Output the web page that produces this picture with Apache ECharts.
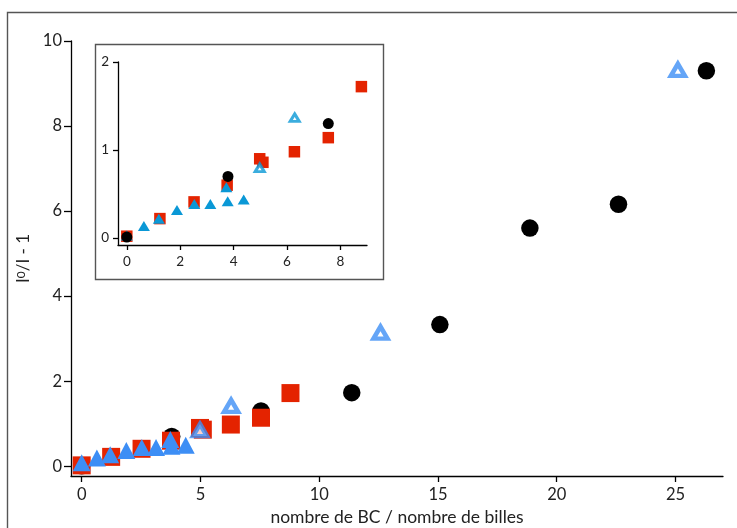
<!DOCTYPE html>
<html>
<head>
<meta charset="utf-8">
<script src="https://cdn.jsdelivr.net/npm/echarts@6/dist/echarts.min.js"></script>
<style>html,body{margin:0;padding:0;background:#fff}#c{width:737px;height:528px}</style>
</head>
<body>
<div id="c"></div>
<script>
// ---- data ----
var circleX = [0, 3.79, 7.55, 11.37, 15.08, 18.87, 22.6, 26.3];
var circleY = [0.01, 0.7, 1.3, 1.73, 3.33, 5.6, 6.16, 9.3];
var squareX = [0, 1.24, 2.52, 3.76, 4.98, 5.1, 6.28, 7.55, 8.79];
var squareY = [0.02, 0.22, 0.41, 0.6, 0.9, 0.86, 0.98, 1.14, 1.72];
var triFilledX = [0, 0.64, 1.2, 1.88, 2.53, 3.13, 3.78, 3.73, 4.38];
var triFilledY = [0.01, 0.12, 0.2, 0.3, 0.37, 0.37, 0.4, 0.56, 0.42];
var triHollowX = [4.98, 6.29, 12.58, 25.1];
var triHollowY = [0.78, 1.35, 3.07, 9.25];
var mainXTicks = [0, 5, 10, 15, 20, 25];
var mainYTicks = [0, 2, 4, 6, 8, 10];
var insetXTicks = [0, 2, 4, 6, 8];
var insetYTicks = [0, 1, 2];
var xTitle = 'nombre de BC / nombre de billes';

function pairs(xs, ys) { return xs.map(function (x, i) { return [x, ys[i]]; }); }

var FONT = 'Lato';
var RED = '#e42300', BLACK = '#000000', BLUE = '#3d8ef5', CYAN = '#0a98d6';

var chart = echarts.init(document.getElementById('c'), null, {renderer: 'canvas'});

function axisCommon(ticks, fs, margin, tickLen) {
  return {
    type: 'value',
    axisLine: {show: true, onZero: false, lineStyle: {color: '#000', width: 1.3}},
    axisTick: {show: true, inside: false, length: tickLen, customValues: ticks, lineStyle: {color: '#000', width: 1.3}},
    axisLabel: {show: true, customValues: ticks, margin: margin, fontFamily: FONT, fontSize: fs, color: '#222'},
    splitLine: {show: false}
  };
}

var mx = axisCommon(mainXTicks, 16.5, 10, 6);
mx.gridIndex = 0; mx.min = -0.45; mx.max = 27;
mx.name = xTitle; mx.nameLocation = 'middle'; mx.nameGap = 30;
mx.nameTextStyle = {fontFamily: FONT, fontSize: 17.5, color: '#222'};

var my = axisCommon(mainYTicks, 16.5, 9, 7);
my.gridIndex = 0; my.min = -0.23; my.max = 10;
my.name = '{n|I}{s|0}{n|/I - 1}'; my.nameLocation = 'middle'; my.nameGap = 21;
my.nameTextStyle = {fontFamily: FONT, fontSize: 17, color: '#222',
  rich: {n: {fontFamily: FONT, fontSize: 17, color: '#222', lineHeight: 18, verticalAlign: 'top'},
         s: {fontFamily: FONT, fontSize: 12, color: '#222', lineHeight: 28, verticalAlign: 'top'}}};

var ix = axisCommon(insetXTicks, 13.5, 10, 5);
ix.gridIndex = 1; ix.min = -0.33; ix.max = 9;
var iy = axisCommon(insetYTicks, 13.5, 9, 5);
iy.gridIndex = 1; iy.min = -0.08; iy.max = 2;

function sc(name, xi, data, symbol, size, color, extra) {
  var s = {
    type: 'scatter', name: name, xAxisIndex: xi, yAxisIndex: xi, data: data,
    symbol: symbol, symbolSize: size, clip: true, animation: false,
    itemStyle: {color: color, opacity: 1}
  };
  for (var k in extra) s[k] = extra[k];
  return s;
}

var option = {
  backgroundColor: '#ffffff',
  animation: false,
  grid: [
    {left: 71, right: 14, top: 41, bottom: 52, outerBoundsMode: 'none', containLabel: false},
    {left: 118, right: 370, top: 62, bottom: 283, outerBoundsMode: 'none', containLabel: false}
  ],
  xAxis: [mx, ix],
  yAxis: [my, iy],
  graphic: [
    {type: 'rect', shape: {x: 7.5, y: 12.5, width: 900, height: 700}, style: {fill: 'none', stroke: '#555', lineWidth: 1.4}, z: -10, silent: true},
    {type: 'rect', shape: {x: 95.5, y: 44.5, width: 288, height: 235}, style: {fill: 'none', stroke: '#555', lineWidth: 1.4}, z: -10, silent: true}
  ],
  series: [
    // main chart
    sc('squares', 0, pairs(squareX, squareY), 'rect', 18, RED, {z: 3}),
    sc('circles', 0, pairs(circleX, circleY), 'circle', 17.5, BLACK, {z: 2}),
    sc('triFilled', 0, pairs(triFilledX, triFilledY), 'triangle', [18, 17], BLUE, {z: 4, symbolOffset: [0, -3]}),
    sc('triHollow', 0, pairs(triHollowX, triHollowY), 'triangle', [14, 12], '#fff',
       {z: 4, symbolOffset: [0, -3], itemStyle: {color: '#fff', borderColor: BLUE, borderWidth: 4.5}}),
    // inset
    sc('squaresIn', 1, pairs(squareX, squareY), 'rect', 11.5, RED, {z: 5}),
    sc('circlesIn', 1, pairs(circleX, circleY), 'circle', 11, BLACK, {z: 7}),
    sc('triFilledIn', 1, pairs(triFilledX, triFilledY), 'triangle', [12, 10], CYAN, {z: 6, symbolOffset: [0, -1.5]}),
    sc('triHollowIn', 1, pairs(triHollowX, triHollowY), 'triangle', [9, 7.5], '#fff',
       {z: 6, symbolOffset: [0, -1.5], itemStyle: {color: '#fff', borderColor: CYAN, borderWidth: 3}})
  ]
};
chart.setOption(option);
</script>
</body>
</html>
